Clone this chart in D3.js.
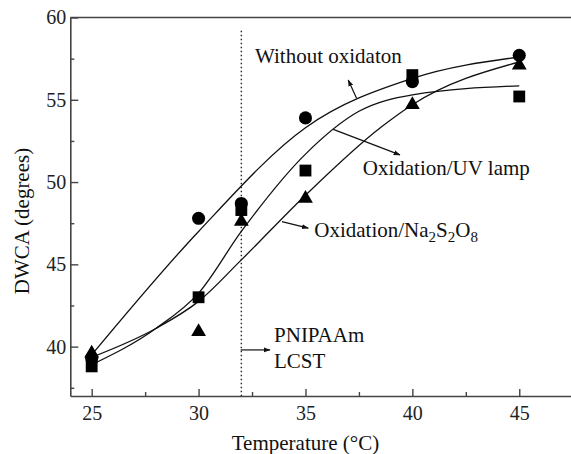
<!DOCTYPE html>
<html>
<head>
<meta charset="utf-8">
<script src="https://cdn.jsdelivr.net/npm/d3@7"></script>
<style>
  body { margin: 0; background: #fff; }
  text { font-family: "Liberation Serif", "Times New Roman", serif; }
</style>
</head>
<body>
<div id="chart-area"></div>
<script>
// measured points (temperature °C, DWCA degrees)
var temps = [25, 30, 32, 35, 40, 45];
var noOxValues = [39.3, 47.8, 48.7, 53.9, 56.1, 57.7];
var uvValues = [38.8, 43.0, 48.3, 50.7, 56.5, 55.2];
var naValues = [39.6, 40.9, 47.6, 49.0, 54.7, 57.1];

// fitted curves
var noOxCurve = [[25, 39.5], [30, 47.0], [35, 53.3], [40, 56.3], [45, 57.6]];
var uvCurve = [[25, 38.9], [28, 41.1], [30, 43.25], [32, 47.0], [35, 51.7], [37.5, 54.3], [40, 55.3], [45, 55.85]];
var naCurve = [[25, 39.35], [28, 41.1], [30, 42.75], [32, 45.27], [35, 49.2], [38.5, 53.3], [40, 54.7], [45, 57.3]];

var xTicks = [25, 30, 35, 40, 45];
var xMinor = [27.5, 32.5, 37.5, 42.5, 47.5];
var yTicks = [40, 45, 50, 55, 60];
var yMinor = [37.5, 42.5, 47.5, 52.5, 57.5];
var lcst = 32;

var width = 571, height = 454;

const svg = d3.select("#chart-area")
    .append('svg')
    .attr('width', width)
    .attr('height', height);

const x = d3.scaleLinear().domain([24, 48]).range([70.3, 583.4]);
const y = d3.scaleLinear().domain([37, 60]).range([396, 17.5]);

const axisColor = '#444';

// top frame line
svg.append('line')
    .attr('x1', x(24)).attr('x2', x(48))
    .attr('y1', y(60)).attr('y2', y(60))
    .attr('stroke', axisColor).attr('stroke-width', 1.6);

// minor ticks
svg.append('g')
    .attr('transform', 'translate(0,' + y(37) + ')')
    .call(d3.axisBottom(x).tickValues(xMinor).tickSize(-4).tickFormat(''))
    .call(g => g.select('.domain').remove())
    .selectAll('line').attr('stroke', axisColor).attr('stroke-width', 1.4);

svg.append('g')
    .attr('transform', 'translate(' + x(24) + ',0)')
    .call(d3.axisLeft(y).tickValues(yMinor).tickSize(-4).tickFormat(''))
    .call(g => g.select('.domain').remove())
    .selectAll('line').attr('stroke', axisColor).attr('stroke-width', 1.4);

const xAxis = svg.append('g')
    .attr('transform', 'translate(0,' + y(37) + ')')
    .call(d3.axisBottom(x).tickValues(xTicks).tickSize(-7).tickSizeOuter(0).tickPadding(10));

const yAxis = svg.append('g')
    .attr('transform', 'translate(' + x(24) + ',0)')
    .call(d3.axisLeft(y).tickValues(yTicks).tickSize(-8).tickSizeOuter(0).tickPadding(4));

[xAxis, yAxis].forEach(function(a) {
    a.select('.domain').attr('stroke', axisColor).attr('stroke-width', 1.6);
    a.selectAll('line').attr('stroke', axisColor).attr('stroke-width', 1.4);
    a.selectAll('text')
        .attr('fill', '#222')
        .attr('font-size', '20px')
        .attr('font-family', '"Liberation Serif", serif');
});
xAxis.selectAll('text').attr('dy', '0.71em');

// LCST dotted line
svg.append('line')
    .attr('x1', x(lcst)).attr('x2', x(lcst))
    .attr('y1', y(59.2)).attr('y2', y(37))
    .attr('stroke', '#222')
    .attr('stroke-width', 1.4)
    .attr('stroke-dasharray', '1.5,2.5');

// fitted curves
const line = d3.line()
    .x(function(d) { return x(d[0]); })
    .y(function(d) { return y(d[1]); })
    .curve(d3.curveMonotoneX);

[noOxCurve, uvCurve, naCurve].forEach(function(c) {
    svg.append('path')
        .attr('d', line(c))
        .attr('fill', 'none')
        .attr('stroke', '#111')
        .attr('stroke-width', 1.3);
});

// markers
function drawMarkers(values, type, size) {
    svg.selectAll(null)
        .data(values)
        .enter()
        .append('path')
        .attr('d', d3.symbol().type(type).size(size))
        .attr('transform', function(d, i) {
            return 'translate(' + x(temps[i]) + ',' + y(d) + ')';
        })
        .attr('fill', '#000');
}
drawMarkers(naValues, d3.symbolTriangle, 95);
drawMarkers(noOxValues, d3.symbolCircle, 135);
drawMarkers(uvValues, d3.symbolSquare, 140);

// arrows
svg.append('defs').append('marker')
    .attr('id', 'arrow')
    .attr('viewBox', '0 0 10 10')
    .attr('refX', 9).attr('refY', 5)
    .attr('markerWidth', 7).attr('markerHeight', 7)
    .attr('markerUnits', 'userSpaceOnUse')
    .attr('orient', 'auto')
    .append('path')
    .attr('d', 'M0,1.5 L10,5 L0,8.5 Z')
    .attr('fill', '#111');

var arrows = [
    [[37.39, 55.1], [37.0, 56.2]],
    [[36.3, 53.2], [39.42, 51.65]],
    [[33.9, 47.6], [35.13, 47.2]],
    [[31.97, 39.8], [33.34, 39.8]]
];
arrows.forEach(function(a) {
    svg.append('line')
        .attr('x1', x(a[0][0])).attr('y1', y(a[0][1]))
        .attr('x2', x(a[1][0])).attr('y2', y(a[1][1]))
        .attr('stroke', '#111')
        .attr('stroke-width', 1.2)
        .attr('marker-end', 'url(#arrow)');
});

// annotations
function label(t, tx, ty) {
    return svg.append('text')
        .attr('x', x(tx)).attr('y', y(ty))
        .attr('font-size', '21px')
        .attr('fill', '#111')
        .text(t);
}
label('Without oxidaton', 32.64, 57.24);
label('Oxidation/UV lamp', 37.68, 50.43);
label('PNIPAAm', 33.53, 40.3);
label('LCST', 33.53, 38.69);

const na = label('', 35.41, 46.65);
na.append('tspan').text('Oxidation/Na');
na.append('tspan').text('2').attr('font-size', '15px').attr('dy', 5);
na.append('tspan').text('S').attr('dy', -5);
na.append('tspan').text('2').attr('font-size', '15px').attr('dy', 5);
na.append('tspan').text('O').attr('dy', -5);
na.append('tspan').text('8').attr('font-size', '15px').attr('dy', 5);

// axis titles
svg.append('text')
    .text('Temperature (°C)')
    .attr('x', (x(25) + x(45)) / 2)
    .attr('y', 450)
    .attr('text-anchor', 'middle')
    .attr('font-size', '21px')
    .attr('fill', '#111');

svg.append('text')
    .text('DWCA (degrees)')
    .attr('x', -221)
    .attr('y', 29)
    .attr('text-anchor', 'middle')
    .attr('font-size', '21px')
    .attr('fill', '#111')
    .attr('transform', 'rotate(-90)');
</script>
</body>
</html>
